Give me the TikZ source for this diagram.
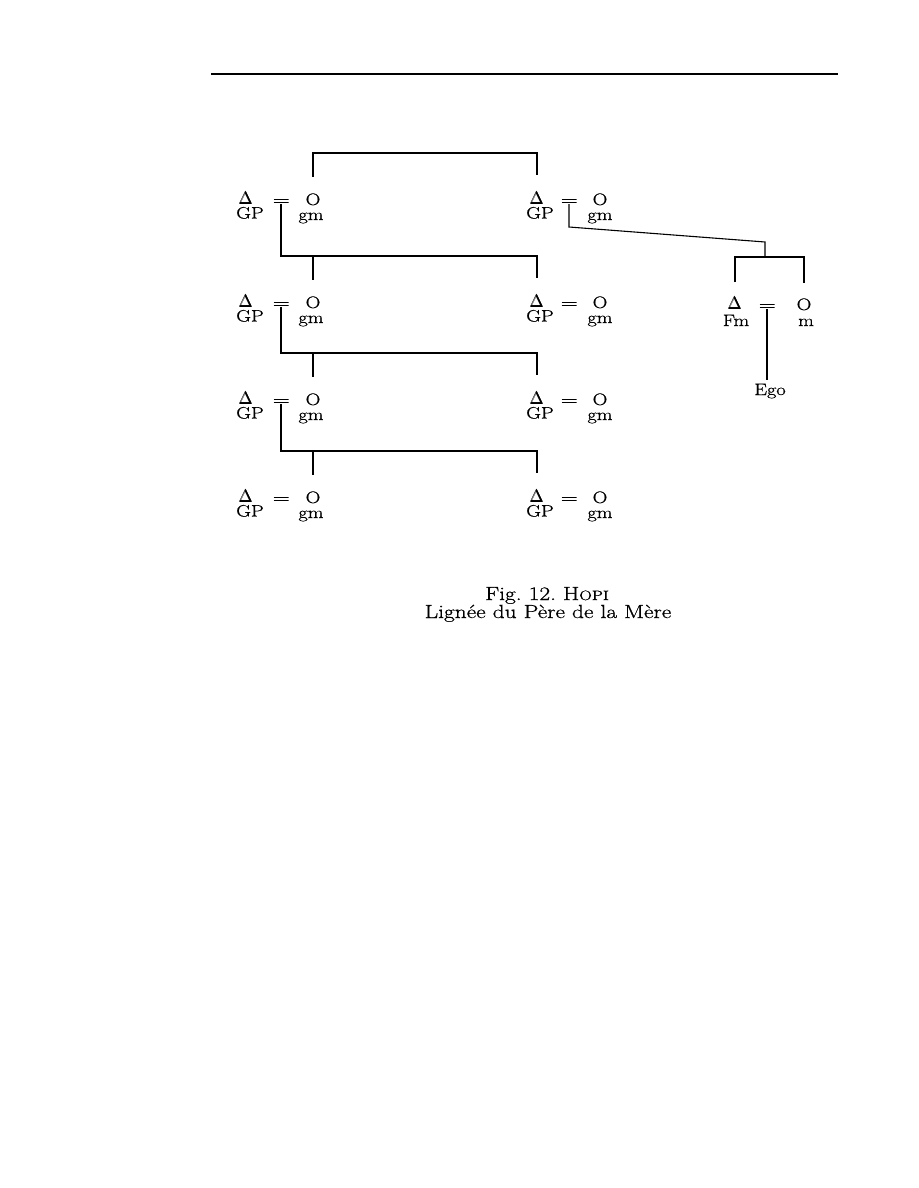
\documentclass[tikz,border=0pt]{standalone}
\usepackage{amsmath}
\usepackage{fontspec}
\setmainfont{Latin Modern Roman}[FakeStretch=1.23, FakeBold=0.8]
\usetikzlibrary{positioning,calc}

\begin{document}
\begin{tikzpicture}[
    x=1pt, y=-1pt,
    line width=1.1pt,
    sym/.style={font=\fontsize{16.5}{19}\selectfont, inner sep=0pt, anchor=base},
    tri/.style={font=\fontsize{17.5}{19}\selectfont, inner sep=0pt, anchor=base},
    lbl/.style={font=\fontsize{16.5}{19}\selectfont, inner sep=0pt, anchor=base},
    capt/.style={font=\fontsize{19}{22}\selectfont, inner sep=0pt, anchor=base},
    eq/.style={minimum width=15pt, minimum height=5pt, inner sep=0pt,
      path picture={
        \draw[line width=1.1pt] ([yshift=-0.6pt]path picture bounding box.north west) -- ([yshift=-0.6pt]path picture bounding box.north east);
        \draw[line width=1.1pt] ([yshift=0.6pt]path picture bounding box.south west) -- ([yshift=0.6pt]path picture bounding box.south east);}},
    gap/.style={shorten >=16pt}
  ]
  \useasboundingbox (0,0) rectangle (918,1188);
  \draw[line width=1.3pt] (211,74) -- (838,74);

  % the two lines of couples, row by row
  \foreach \r/\y in {1/200,2/303,3/400,4/498}{
    \node[tri] (tL\r) at (246,\y+4) {$\pmb{\Delta}$};
    \node[lbl] (gpL\r) at (250,\y+18.5) {GP};
    \node[eq] (eL\r) at (281,\y+1) {};
    \node[sym] (oL\r) at (313,\y+5) {O};
    \node[lbl] (gmL\r) at (311,\y+20) {gm};
    \node[tri] (tR\r) at (537,\y+4) {$\pmb{\Delta}$};
    \node[lbl] (gpR\r) at (540,\y+18.5) {GP};
    \node[eq] (eR\r) at (569,\y+1) {};
    \node[sym] (oR\r) at (600,\y+5) {O};
    \node[lbl] (gmR\r) at (600,\y+20) {gm};
  }

  % siblings above the first row
  \coordinate (b1) at (0,153);
  \draw[shorten <=16pt, gap] (oL1.north) -- (oL1.north |- b1) -| (tR1.north);

  % descent from each left couple
  \foreach \r/\p/\y in {2/1/303,3/2/400,4/3/498}{
    \coordinate (b\r) at (0,\y-47);
    \draw[gap] (eL\p.south) -- (eL\p.south |- b\r) -| (tR\r.north);
    \draw[gap] (oL\r.north |- b\r) -- (oL\r.north);
  }

  % Ego's parents
  \node[tri] (tF) at (735,309) {$\pmb{\Delta}$};
  \node[lbl] (fm) at (736,326) {Fm};
  \node[eq] (eF) at (767,306) {};
  \node[sym] (oF) at (804,310) {O};
  \node[lbl] (mF) at (806,326) {m};
  \node[lbl] (ego) at (770,395) {Ego};

  \coordinate (bend) at (570,227);
  \coordinate (fork) at (765,242);
  \coordinate (b5) at (0,257);
  \draw (eR1.south) -- (eR1.south |- bend) -- (fork) -- (fork |- b5);
  \draw[shorten <=14pt, shorten >=15pt] (tF.north) -- (tF.north |- b5) -| (oF.north);
  \draw[shorten >=3pt] (eF.south) -- (eF.south |- ego.north);

  \node[capt] (fig) at (547,600) {Fig.\ 12.\ H{\fontsize{13.5}{15}\selectfont OPI}};
  \node[capt] (lig) at (548,618) {Lignée du Père de la Mère};
\end{tikzpicture}
\end{document}
